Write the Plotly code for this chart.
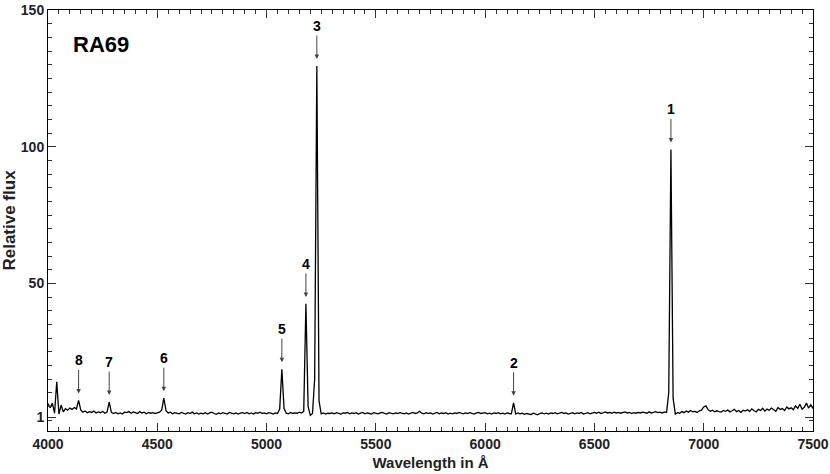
import plotly.graph_objects as go

# Spectrum sampled every 10 Å starting at 4000 Å
wl_start = 4000
wl_step = 10
flux = [
    6.0, 4.5, 6.2, 2.5, 14.0, 2.2, 5.5, 3.0, 4.2, 3.6,   # 4000
    4.4, 3.9, 4.6, 4.1, 7.2, 3.6, 2.9, 3.3, 2.7, 3.1,    # 4100
    2.8, 3.3, 2.6, 3.0, 2.7, 3.2, 2.5, 2.9, 6.6, 2.8,    # 4200
    2.4, 2.8, 2.3, 2.6, 2.2, 2.9, 2.7, 3.1, 2.5, 3.0,    # 4300
    2.7, 2.4, 3.1, 2.6, 2.9, 2.3, 2.8, 2.5, 2.7, 2.4,    # 4400
    2.6, 2.9, 3.6, 8.0, 3.4, 2.6, 2.9, 2.3, 2.7, 2.5,    # 4500
    2.3, 2.8, 2.5, 2.2, 2.7, 2.4, 2.9, 2.3, 2.6, 2.2,    # 4600
    2.5, 2.3, 2.7, 2.2, 2.6, 2.9, 2.4, 2.1, 2.6, 2.3,    # 4700
    2.7, 2.4, 2.2, 2.8, 2.5, 2.3, 2.6, 2.2, 2.5, 2.7,    # 4800
    2.4, 2.8, 2.3, 2.6, 2.2, 2.7, 2.5, 2.9, 2.4, 2.6,    # 4900
    2.3, 2.7, 2.5, 2.2, 2.6, 2.4, 4.0, 18.6, 4.2, 2.5,   # 5000
    2.3, 2.8, 2.4, 2.6, 2.5, 2.9, 2.6, 3.2, 42.5, 5.0,   # 5100
    1.7, 2.4, 15.0, 129.5, 7.0, 2.3, 2.6, 2.2, 2.5, 2.4, # 5200
    2.6, 2.3, 2.7, 2.4, 2.2, 2.6, 2.5, 2.8, 2.3, 2.6,    # 5300
    2.4, 2.7, 2.2, 2.5, 2.8, 2.3, 2.6, 2.4, 2.2, 2.7,    # 5400
    2.5, 2.3, 2.6, 2.8, 2.4, 2.2, 2.7, 2.5, 2.3, 2.6,    # 5500
    2.4, 2.7, 2.5, 2.3, 2.6, 2.2, 2.5, 2.8, 2.4, 2.6,    # 5600
    3.2, 2.5, 2.3, 2.7, 2.4, 2.6, 2.2, 2.5, 2.8, 2.3,    # 5700
    2.6, 2.4, 2.7, 2.2, 2.5, 2.3, 2.6, 2.4, 2.8, 2.5,    # 5800
    2.3, 2.6, 2.4, 2.7, 2.5, 2.2, 2.6, 2.8, 2.4, 2.5,    # 5900
    2.7, 2.3, 2.5, 2.2, 2.6, 2.4, 2.7, 2.3, 2.5, 2.2,    # 6000
    2.6, 2.4, 2.3, 6.3, 2.2, 2.6, 2.3, 2.5, 2.1, 2.4,    # 6100
    2.3, 2.0, 2.5, 2.2, 1.9, 2.4, 2.6, 2.3, 2.5, 2.2,    # 6200
    2.6, 2.4, 2.7, 2.3, 2.5, 2.8, 2.4, 2.6, 2.2, 2.5,    # 6300
    2.7, 2.3, 2.6, 2.4, 2.8, 2.2, 2.5, 2.7, 2.3, 2.6,    # 6400
    2.8, 2.5, 2.9, 2.4, 2.7, 3.0, 2.6, 2.8, 2.5, 2.9,    # 6500
    2.6, 2.8, 2.5, 2.7, 3.0, 2.6, 2.8, 2.4, 2.7, 2.5,    # 6600
    2.8, 2.6, 2.9, 2.7, 2.5, 3.0, 2.6, 2.8, 3.1, 2.7,    # 6700
    2.9, 2.6, 3.0, 2.8, 10.0, 99.0, 8.0, 2.2, 2.7, 2.5,  # 6800
    3.1, 2.7, 3.3, 2.9, 3.5, 3.0, 3.2, 2.8, 3.4, 3.6,    # 6900
    4.8, 5.2, 3.8, 3.2, 3.6, 3.0, 3.4, 3.1, 2.9, 3.5,    # 7000
    3.2, 3.7, 3.0, 3.4, 3.9, 3.1, 3.5, 2.8, 3.6, 3.3,    # 7100
    3.8, 3.2, 4.1, 3.4, 3.0, 3.9, 3.5, 4.3, 3.3, 4.0,    # 7200
    3.6, 4.4, 3.8, 3.2, 4.6, 3.9, 4.2, 3.5, 4.8, 4.1,    # 7300
    4.5, 3.8, 5.2, 4.3, 5.8, 4.0, 4.7, 6.2, 4.4, 5.6,    # 7400
    4.2,                                                 # 7500
]

# Identified emission lines
line_labels = ["1", "2", "3", "4", "5", "6", "7", "8"]
line_wavelengths = [6850, 6130, 5230, 5180, 5070, 4530, 4280, 4140]

x_ticks = [4000, 4500, 5000, 5500, 6000, 6500, 7000, 7500]
y_ticks = [1, 50, 100, 150]
y_tick_labels = ["1", "50", "100", "150"]

title_text = "RA69"
x_title = "Wavelength in Å"
y_title = "Relative flux"

FONT = "Liberation Sans, Arial, Helvetica, sans-serif"

fig = go.Figure()
fig.add_trace(go.Scatter(
    x0=wl_start, dx=wl_step, y=flux, mode="lines",
    line=dict(color="black", width=1.3), showlegend=False, hoverinfo="skip",
))

for lab, wl in zip(line_labels, line_wavelengths):
    peak = flux[(wl - wl_start) // wl_step]
    fig.add_annotation(
        x=wl, y=peak, xref="x", yref="y", text=lab, showarrow=True,
        ax=0, ay=-40, arrowhead=2, arrowsize=0.9, arrowwidth=1,
        arrowcolor="#444", standoff=7,
        font=dict(family=FONT, size=14, color="black", weight="bold"),
    )

fig.add_annotation(
    x=4103, y=137.5, xref="x", yref="y", text=title_text, showarrow=False,
    xanchor="left", yanchor="middle",
    font=dict(family=FONT, size=22, color="black", weight="bold"),
)

axis_common = dict(
    showline=True, linecolor="black", linewidth=1, mirror="allticks",
    ticks="inside", tickcolor="#333", showgrid=False, zeroline=False,
    automargin=False,
    tickfont=dict(family=FONT, size=14, color="#222", weight="bold"),
)

fig.update_xaxes(
    range=[4000, 7500], tickvals=x_ticks, ticklen=8, tickwidth=1,
    minor=dict(ticks="inside", dtick=50, tick0=4000, ticklen=4, tickcolor="#333", showgrid=False),
    title=dict(text=x_title, standoff=6,
               font=dict(family=FONT, size=15, color="#222", weight="bold")),
    **axis_common,
)
fig.update_yaxes(
    range=[-4, 150], tickvals=y_ticks, ticktext=y_tick_labels, ticklen=8, tickwidth=1,
    minor=dict(ticks="inside", dtick=5, tick0=0, ticklen=4, tickcolor="#333", showgrid=False),
    title=dict(text=y_title, standoff=4,
               font=dict(family=FONT, size=17, color="#222", weight="bold")),
    **axis_common,
)

fig.update_layout(
    width=830, height=474,
    margin=dict(l=48, r=17, t=10, b=43),
    plot_bgcolor="white", paper_bgcolor="white",
)

fig.write_html(
    "out.html",
    config={"displayModeBar": False},
    post_script="document.body.style.margin='0';document.body.style.padding='0';document.body.style.overflow='hidden';",
)
